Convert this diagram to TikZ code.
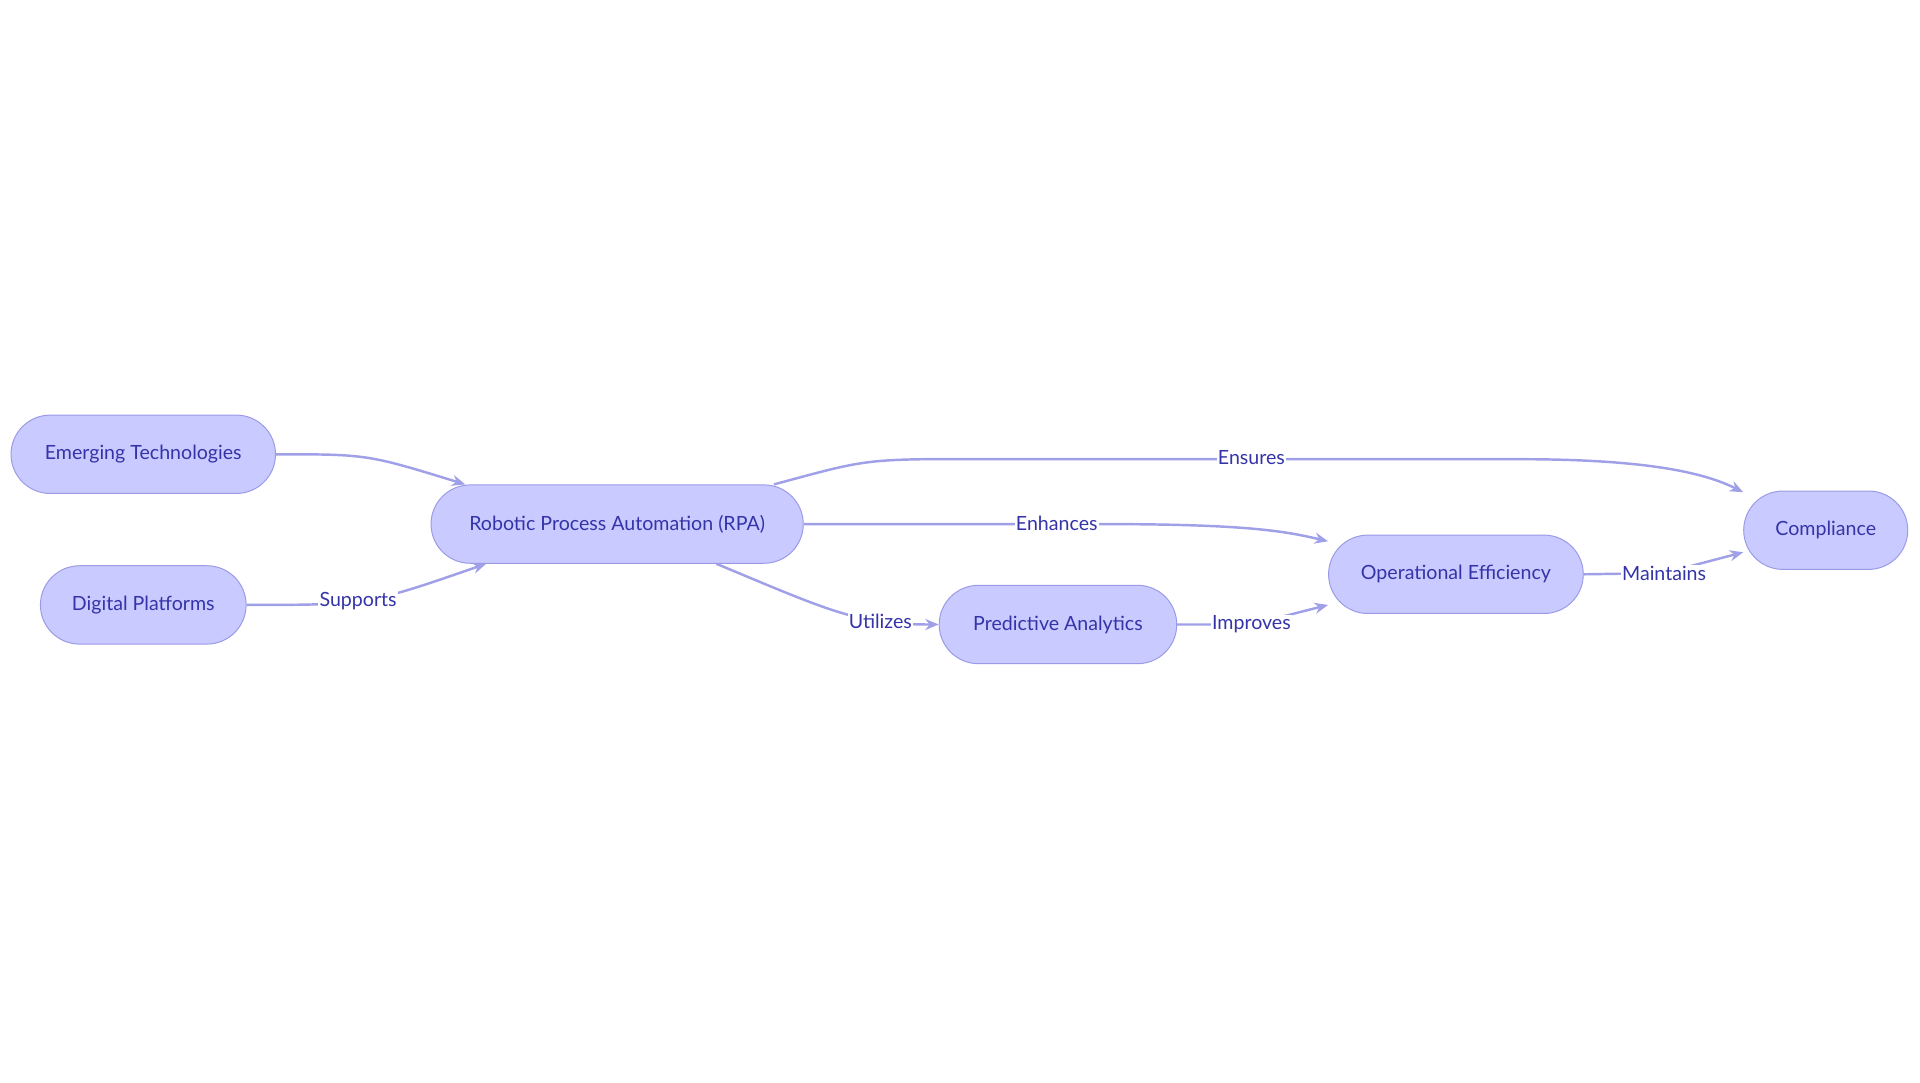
\documentclass[tikz,border=0pt]{standalone}
\usepackage{fontspec}
\setmainfont{Lato}
\usetikzlibrary{shapes.misc,arrows.meta}
\definecolor{nfill}{HTML}{C9CAFF}
\definecolor{nline}{HTML}{9A9AE6}
\definecolor{ntext}{HTML}{3434A8}
\definecolor{eline}{HTML}{A0A0E8}
\begin{document}
\begin{tikzpicture}[x=1pt,y=1pt,
  box/.style={rounded rectangle,draw=nline,fill=nfill,text=ntext,line width=0.8pt,minimum height=64pt,inner sep=0pt,font=\fontsize{16}{18}\selectfont},
  conn/.style={draw=eline,line width=2pt,-{Stealth[length=11pt,width=9pt]}},
  lbl/.style={fill=white,text=ntext,inner sep=1pt,font=\fontsize{16}{18}\selectfont}]
\useasboundingbox (0,0) rectangle (1568,-884);
\node[box,minimum width=216pt] (em) at (117,-371) {Emerging Technologies};
\node[box,minimum width=168pt] (dp) at (117,-494) {Digital Platforms};
\node[box,minimum width=304pt] (rpa) at (504,-428) {Robotic Process Automation (RPA)};
\node[box,minimum width=194pt] (pa) at (864,-510) {Predictive Analytics};
\node[box,minimum width=208pt] (oe) at (1189,-469) {Operational Efficiency};
\node[box,minimum width=134pt] (co) at (1491,-433) {Compliance};
\path[conn] (em.east) .. controls (300,-371) .. ([xshift=-124pt]rpa.north);
\path[conn] (dp.east) .. controls (300,-494) .. ([xshift=-107pt]rpa.south) node[lbl,pos=0.45] {Supports};
\path[conn] ([xshift=128pt]rpa.north) .. controls (720,-372) and (700,-375) .. (860,-375) -- (1240,-375) .. controls (1340,-375) and (1390,-385) .. ([yshift=31pt]co.west);
\node[lbl] (l1) at (1022,-374) {Ensures};
\path[conn] (rpa.east) -- (900,-428) .. controls (1020,-428) and (1050,-434) .. ([yshift=27pt]oe.west);
\node[lbl] (l2) at (863,-427) {Enhances};
\path[conn] ([xshift=81pt]rpa.south) .. controls (680,-500) and (700,-510) .. (pa.west) node[lbl,pos=0.72] {Utilizes};
\path[conn] (pa.east) -- (1022,-510) -- ([yshift=-25pt]oe.west) node[lbl,pos=0] {Improves};
\path[conn] (oe.east) -- (1359,-468) -- ([yshift=-18pt]co.west) node[lbl,pos=0] {Maintains};
\end{tikzpicture}
\end{document}
